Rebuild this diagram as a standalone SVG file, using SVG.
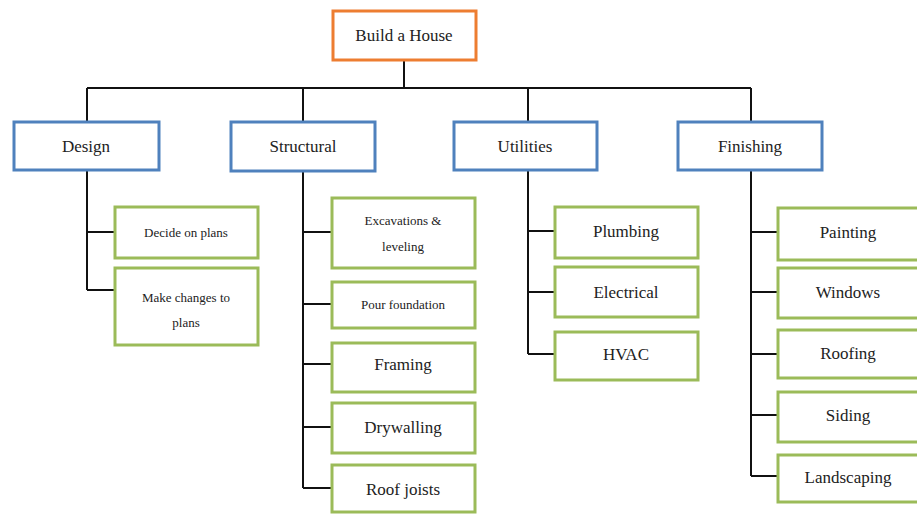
<svg xmlns="http://www.w3.org/2000/svg" width="917" height="514" viewBox="0 0 917 514">
<style>
.root{fill:#fff;stroke:#ED7D31;stroke-width:3}
.cat{fill:#fff;stroke:#4F81BD;stroke-width:3}
.leaf{fill:#fff;stroke:#9BBB59;stroke-width:3}
.t{font-family:'Liberation Serif','DejaVu Serif','Times New Roman',serif;fill:#222;text-anchor:middle;dominant-baseline:central}
.s16{font-size:17px}.s13{font-size:13px}
.ln{stroke:#111;stroke-width:2;fill:none}
</style>
<rect width="917" height="514" fill="#fff"/>
<g id="connectors">
<path class="ln" d="M404 60V88M87 88H751M87 88V122M303 88V122M528 88V122M751 88V122"/>
<path class="ln" d="M87 170V290M87 232H115M87 290H115"/>
<path class="ln" d="M303 171V488M303 232H332M303 304H332M303 364H332M303 427H332M303 488H332"/>
<path class="ln" d="M528 170V354M528 231H555M528 292H555M528 354H555"/>
<path class="ln" d="M751 170V476M751 232H778M751 292H778M751 354H778M751 415H778M751 476H778"/>
</g>
<g id="root"><rect class="root" x="333" y="11" width="143" height="49"/><text class="t s16" x="404" y="35" font-family="Liberation Serif, serif">Build a House</text></g>
<g id="design"><rect class="cat" x="14" y="122" width="145" height="48"/><text class="t s16" x="86" y="146">Design</text></g>
<g id="structural"><rect class="cat" x="231" y="122" width="144" height="49"/><text class="t s16" x="303" y="146">Structural</text></g>
<g id="utilities"><rect class="cat" x="454" y="122" width="143" height="48"/><text class="t s16" x="525" y="146">Utilities</text></g>
<g id="finishing"><rect class="cat" x="678" y="122" width="144" height="48"/><text class="t s16" x="750" y="146">Finishing</text></g>
<g id="decide"><rect class="leaf" x="115" y="207" width="143" height="51"/><text class="t s13" x="186" y="232">Decide on plans</text></g>
<g id="changes"><rect class="leaf" x="115" y="268" width="143" height="77"/><text class="t s13" x="186" y="297">Make changes to</text><text class="t s13" x="186" y="322">plans</text></g>
<g id="excavations"><rect class="leaf" x="332" y="198" width="143" height="70"/><text class="t s13" x="403" y="220">Excavations &amp;</text><text class="t s13" x="403" y="246">leveling</text></g>
<g id="pour"><rect class="leaf" x="332" y="282" width="143" height="46"/><text class="t s13" x="403" y="304">Pour foundation</text></g>
<g id="framing"><rect class="leaf" x="332" y="343" width="143" height="49"/><text class="t s16" x="403" y="364">Framing</text></g>
<g id="drywalling"><rect class="leaf" x="332" y="403" width="143" height="50"/><text class="t s16" x="403" y="427">Drywalling</text></g>
<g id="roofjoists"><rect class="leaf" x="332" y="465" width="143" height="47"/><text class="t s16" x="403" y="489">Roof joists</text></g>
<g id="plumbing"><rect class="leaf" x="555" y="207" width="143" height="51"/><text class="t s16" x="626" y="231">Plumbing</text></g>
<g id="electrical"><rect class="leaf" x="555" y="267" width="143" height="50"/><text class="t s16" x="626" y="292">Electrical</text></g>
<g id="hvac"><rect class="leaf" x="555" y="332" width="143" height="48"/><text class="t s16" x="626" y="354">HVAC</text></g>
<g id="painting"><rect class="leaf" x="778" y="208" width="142" height="52"/><text class="t s16" x="848" y="232">Painting</text></g>
<g id="windows"><rect class="leaf" x="778" y="268" width="142" height="50"/><text class="t s16" x="848" y="292">Windows</text></g>
<g id="roofing"><rect class="leaf" x="778" y="330" width="142" height="48"/><text class="t s16" x="848" y="353">Roofing</text></g>
<g id="siding"><rect class="leaf" x="778" y="392" width="142" height="50"/><text class="t s16" x="848" y="415">Siding</text></g>
<g id="landscaping"><rect class="leaf" x="778" y="455" width="142" height="47"/><text class="t s16" x="848" y="477">Landscaping</text></g>
</svg>
